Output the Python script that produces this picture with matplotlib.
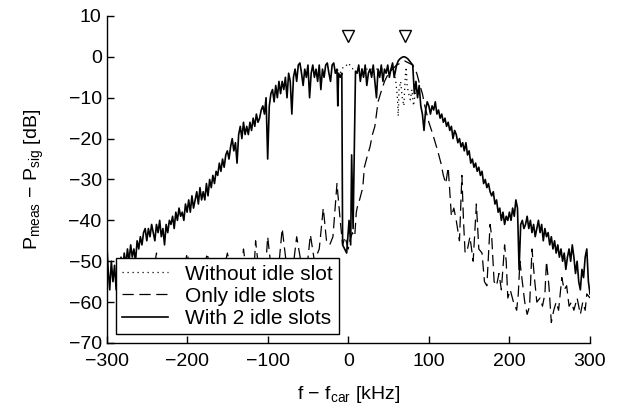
import matplotlib
matplotlib.use("Agg")
import matplotlib.pyplot as plt
import numpy as np

plt.rcParams['font.family'] = ['Liberation Sans', 'DejaVu Sans']
plt.rcParams['mathtext.fontset'] = 'custom'
plt.rcParams['mathtext.rm'] = 'Liberation Sans'
plt.rcParams['mathtext.it'] = 'Liberation Sans:italic'

# ---- data: With 2 idle slots (solid) ----
solid_x = [-300, -298, -296, -294, -292, -290, -288, -286, -284, -282, -280, -278, -276, -274, -272, -270,
           -268, -266, -264, -262, -260, -258, -256, -254, -252, -250, -248, -246, -244, -242, -240, -238,
           -236, -234, -232, -230, -228, -226, -224, -222, -220, -218, -216, -214, -212, -210, -208, -206,
           -204, -202, -200, -198, -196, -194, -192, -190, -188, -186, -184, -182, -180, -178, -176, -174,
           -172, -170, -168, -166, -164, -162, -160, -158, -156, -154, -152, -150, -148, -146, -144, -142,
           -140, -138, -136, -134, -132, -130, -128, -126, -124, -122, -120, -118, -116, -114, -112, -110,
           -108, -106, -104, -102, -100, -98, -96, -94, -92, -90, -88, -86, -84, -82, -80, -78, -76, -74,
           -72, -70, -68, -66, -64, -62, -60, -58, -56, -54, -52, -50, -48, -46, -44, -42, -40, -38, -36,
           -34, -32, -30, -28, -26, -24, -22, -20, -18, -16, -14, -13, -12, -10, -8, -7, -2, 1, 3, 4.2, 6,
           9, 11, 13, 15, 17, 19, 21, 23, 25, 27, 29, 31, 33, 35, 37, 39, 41, 43, 45, 47, 49, 51, 53, 55,
           57, 58, 60, 62, 64, 66, 68, 70, 72, 74, 76, 78, 80, 82, 84, 86, 88, 90, 92, 94, 96, 98, 100,
           102, 104, 106, 108, 110, 112, 114, 116, 118, 120, 122, 124, 126, 128, 130, 132, 134, 136, 138,
           140, 142, 144, 146, 148, 150, 152, 154, 156, 158, 160, 162, 164, 166, 168, 170, 172, 174, 176,
           178, 180, 182, 184, 186, 188, 190, 192, 194, 196, 198, 200, 202, 204, 206, 208, 210, 212, 214,
           216, 218, 220, 222, 224, 226, 228, 230, 232, 234, 236, 238, 240, 242, 244, 246, 248, 250, 252,
           254, 256, 258, 260, 262, 264, 266, 268, 270, 272, 274, 276, 278, 280, 282, 284, 286, 288, 290,
           292, 294, 296, 298, 300]
solid_y = [-44, -52, -57, -50, -55, -51, -57, -52, -54, -49, -53, -48, -51, -47, -50, -46,
           -49, -47, -50, -45, -47, -44, -46, -43, -42, -45, -42, -44, -41, -43, -45, -41,
           -43, -40, -44, -42, -46, -41, -43, -40, -41, -39, -42, -38, -40, -37, -39, -38,
           -40, -36, -38, -35, -38, -34, -37, -35, -33, -36, -32, -35, -33, -35, -31, -34,
           -30, -32, -29, -31, -28, -29, -26, -28, -25, -27, -24, -23, -25, -22, -20, -23,
           -21, -26, -19, -17, -20, -16, -19, -17, -19, -16, -18, -15, -17, -14, -16, -15,
           -13, -12, -14, -10, -25, -12, -9, -8, -11, -7, -10, -6, -9, -6, -8, -5, -10, -4,
           -6, -14, -5, -3, -6, -2, -1.5, -4, -7, -3, -5, -2, -10, -4, -2, -5, -3, -6, -2,
           -8, -3, -5, -2, -1.5, -4, -6, -2, -1.5, -4, -3, -12, -4, -5, -4, -46, -48, -40, -46, -24, -42,
           -3.5, -4, -2, -6, -3, -5, -2, -7, -4, -3, -5, -2, -6, -10, -3, -5, -2, -6, -3, -4, -2, -5, -3, -1.5,
           -5, -4, -2, -1, -0.5, -0.2, 0, 0, -0.2, -0.5, -1, -1.5, -2, -9, -6, -10, -7, -12, -14, -18, -13, -11, -12,
           -14, -12, -13, -11, -14, -13, -15, -14, -16, -15, -17, -16, -18, -17, -20, -18, -19, -21, -20,
           -22, -21, -23, -21, -24, -23, -26, -25, -27, -26, -28, -27, -29, -28, -31, -30, -32, -31, -33,
           -34, -33, -36, -35, -38, -37, -40, -38, -41, -39, -40, -38, -40, -37, -39, -35, -37, -52, -41,
           -40, -42, -41, -39, -42, -40, -43, -41, -44, -42, -40, -43, -41, -45, -42, -44, -43, -46, -44,
           -47, -45, -48, -46, -49, -47, -50, -48, -52, -49, -47, -50, -46, -49, -53, -50, -55, -57, -52,
           -54, -49, -47, -55, -58]

# ---- data: Without idle slot (dotted, visible part) ----
dot_x = [-16, -14, -12, -10, -8, -6, -4, -2, 0, 2, 4, 6, 8, 10, 12, 56, 57, 59, 61, 62, 63, 65,
         67, 69, 71, 72, 73, 75, 77, 79, 81, 83, 86]
dot_y = [-4, -3, -3.5, -4, -3, -2.5, -2.5, -2, -1.5, -2, -2.5, -3, -3, -4, -3, -3, -4, -6, -10, -14.5,
         -8, -6, -10, -12, -4, -2.5, -7, -9, -10.5, -8, -12, -9, -8]

# ---- data: Only idle slots (dashed) ----
dash_x = [-285, -270, -262, -255, -245, -238, -230, -222, -215, -208, -200, -192, -185, -175, -168,
          -160, -150, -142, -135, -130, -125, -118, -115, -110, -104, -100, -95, -88, -82, -76, -70,
          -64, -58, -52, -47, -42, -36, -31, -27, -23, -19, -14, -10, -7, -4, 0, 2, 5, 8, 10, 12, 14,
          18, 20, 24, 27, 30, 33, 37, 40, 45, 50, 55, 60, 65, 70, 75, 80, 85, 89, 92, 95, 100, 105,
          111, 115, 118, 121, 124, 126, 128, 131, 134, 138, 141, 143, 145, 148, 151, 155, 159, 162,
          166, 169, 172, 176, 178, 181, 184, 187, 190, 194, 196, 198, 201, 205, 209, 211, 213, 216,
          219, 222, 225, 228, 231, 234, 238, 241, 244, 246, 249, 252, 255, 258, 261, 265, 268, 271,
          274, 277, 280, 284, 288, 291, 294, 296, 300]
dash_y = [-58, -56, -59, -55, -57, -48, -56, -58, -55, -57, -48, -56, -58, -48, -56, -57, -48, -55,
          -57, -47, -55, -56, -45, -54, -56, -44, -53, -55, -42, -52, -54, -44, -51, -53, -43.5, -50,
          -47, -37, -45, -46, -44, -31, -40, -46, -44, -47, -45, -43, -44, -38, -36, -35, -32, -27,
          -24, -22, -19, -17, -11, -9, -6, -4, -3, -2, -1.5, -1, -1.5, -2, -4, -7, -9, -12, -16, -19,
          -23, -26, -29, -31, -27, -33, -39, -37, -40, -45, -29, -40, -48, -47, -44, -50, -36, -47,
          -48, -55, -56, -41, -44, -55, -56, -53, -57, -46, -50, -59, -57, -60, -62, -58, -50, -55,
          -60, -63, -61, -47, -54, -60, -59, -61, -58, -50, -56, -65, -62, -60, -62, -54, -57, -56,
          -61, -60, -62, -59, -63, -60, -62, -58, -59]

marker_x = [0, 70]
marker_y = [5, 5]

x_ticks = [-300, -200, -100, 0, 100, 200, 300]
y_ticks = [-70, -60, -50, -40, -30, -20, -10, 0, 10]

fig = plt.figure(figsize=(6.21, 4.11), dpi=100)
ax = fig.add_axes([0.1715, 0.1655, 0.7786, 0.7956])

ax.plot(dot_x, dot_y, color='black', lw=0.9, linestyle=(0, (1, 3)), label='Without idle slot')
ax.plot(dash_x, dash_y, color='black', lw=0.9, linestyle=(0, (9, 4.5)), label='Only idle slots')
ax.plot(solid_x, solid_y, color='black', lw=1.2, label='With 2 idle slots')
ax.plot(marker_x, marker_y, linestyle='none', marker='v', markersize=8,
        markerfacecolor='white', markeredgecolor='black', markeredgewidth=1)

ax.set_xlim(-300, 300)
ax.set_ylim(-70, 10)
ax.set_xticks(x_ticks)
ax.set_yticks(y_ticks)
ax.spines['top'].set_visible(False)
ax.spines['right'].set_visible(False)
for s in ('left', 'bottom'):
    ax.spines[s].set_linewidth(1.0)
ax.tick_params(direction='in', length=5, width=1, labelsize=14)
ax.tick_params(axis='x', pad=7)
ax.set_xlabel(r'f − f$_{\rm car}$ [kHz]', fontsize=14, labelpad=10)
ax.set_ylabel(r'P$_{\rm meas}$ − P$_{\rm sig}$ [dB]', fontsize=14, labelpad=16)

leg = ax.legend(loc='lower left', bbox_to_anchor=(0.02, 0.027), fontsize=15, frameon=True,
                fancybox=False, framealpha=1, edgecolor='black', handlelength=2.2,
                borderpad=0.3, labelspacing=0.15, handletextpad=0.8, borderaxespad=0)
leg.get_frame().set_linewidth(1.0)

fig.savefig('out.png', dpi=100)
